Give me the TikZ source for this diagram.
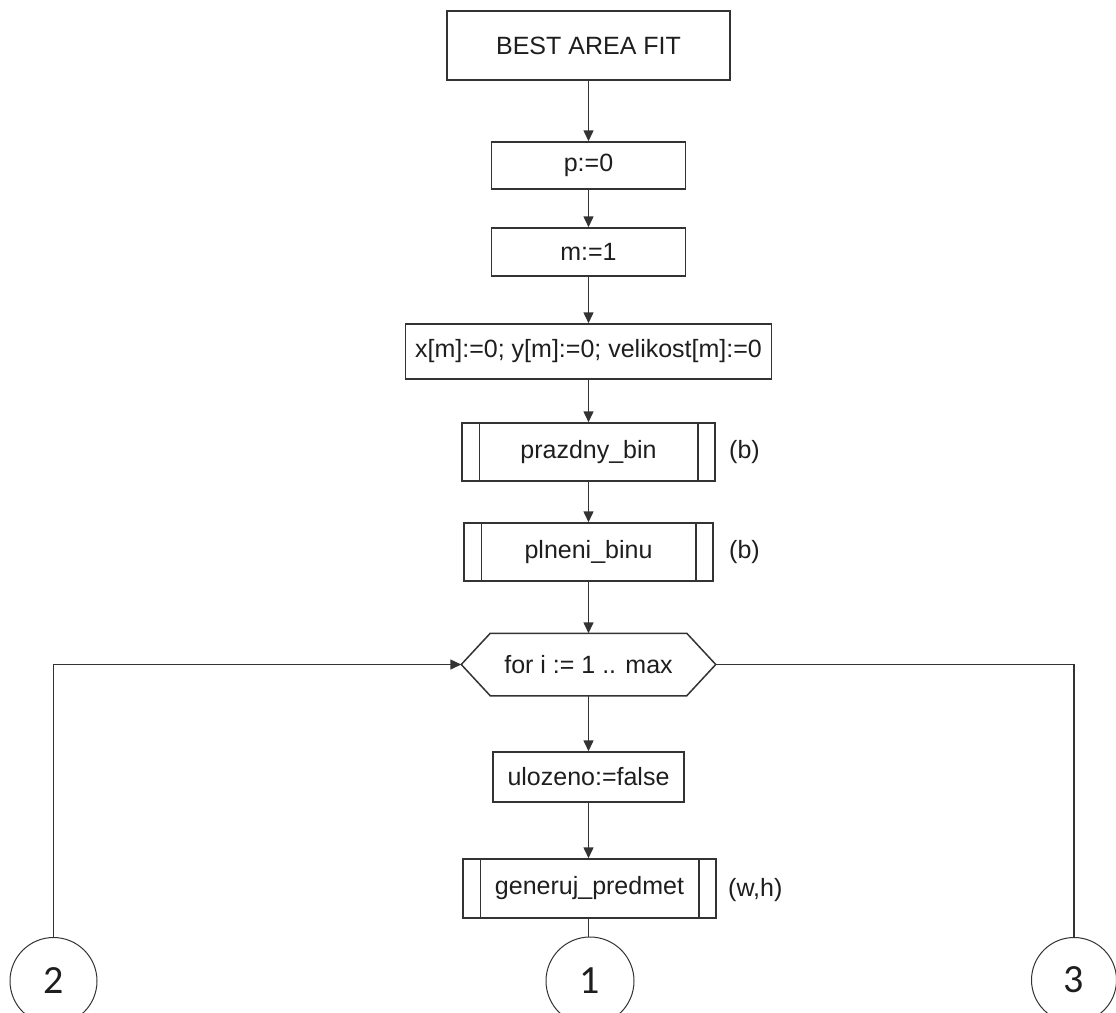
\documentclass[tikz,border=0pt]{standalone}
\usepackage{fontspec}
\setmainfont{Liberation Sans}
\newfontfamily\numfont{Carlito}
\usetikzlibrary{arrows.meta}
\definecolor{ink}{HTML}{333333}
\definecolor{txt}{HTML}{1E1E1E}
\tikzset{
  line/.style={draw=ink, line width=1.5pt},
  arr/.style={line, -{Triangle[length=11pt,width=10pt]}},
  procbox/.style={rectangle, draw=ink, line width=1.5pt, fill=white, text=txt,
    font=\fontsize{25}{29}\selectfont, inner sep=0pt},
  sidelabel/.style={text=txt, font=\fontsize{25}{29}\selectfont, anchor=west, inner sep=0pt},
  connector/.style={circle, draw=ink, line width=1pt, text=txt,
    font=\numfont\fontsize{40}{44}\selectfont, inner sep=0pt},
}
\begin{document}
\begin{tikzpicture}[x=1pt, y=-1pt]
  \clip (0,0) rectangle (1116,1012);
  \fill[white] (0,0) rectangle (1116,1012);

  % main column
  \node[procbox, minimum width=283pt, minimum height=69pt] (start) at (588.5,45.5) {BEST AREA FIT};
  \node[procbox, minimum width=194pt, minimum height=47pt] (p0) at (588.5,165.5) {p:=0};
  \node[procbox, minimum width=194pt, minimum height=48pt] (m1) at (588.5,252) {m:=1};
  \node[procbox, minimum width=366pt, minimum height=55pt] (init) at (588.5,351.5) {x[m]:=0; y[m]:=0; velikost[m]:=0};
  \node[procbox, minimum width=253pt, minimum height=58pt] (empty) at (588.5,452) {prazdny\_bin};
  \node[procbox, minimum width=249pt, minimum height=58pt] (fill) at (588.5,552) {plneni\_binu};
  \node[procbox, draw=none, fill=none, minimum width=253pt, minimum height=61pt] (loop) at (588.5,664.5) {for i := 1 .. max};
  \node[procbox, minimum width=191pt, minimum height=50pt] (flag) at (588.5,777) {ulozeno:=false};
  \node[procbox, minimum width=253pt, minimum height=59pt] (gen) at (589.5,888.5) {generuj\_predmet};

  % loop hexagon outline
  \draw[line] (loop.west) -- ([xshift=29pt]loop.north west) -- ([xshift=-29pt]loop.north east)
    -- (loop.east) -- ([xshift=-29pt]loop.south east) -- ([xshift=29pt]loop.south west) -- cycle;

  % inner bars of the subroutine boxes
  \foreach \b in {empty,fill,gen}{
    \draw[line] ([xshift=18pt]\b.north west) -- ([xshift=18pt]\b.south west);
    \draw[line] ([xshift=-18pt]\b.north east) -- ([xshift=-18pt]\b.south east);
  }

  % parameters
  \node[sidelabel] (pb1) at (729,452) {(b)};
  \node[sidelabel] (pb2) at (729,552) {(b)};
  \node[sidelabel] (pwh) at (728,890) {(w,h)};

  % off-page connectors
  \node[connector, minimum size=88pt] (c1) at (590,981) {1};
  \node[connector, minimum size=87pt] (c2) at (53.5,981) {2};
  \node[connector, minimum size=85pt] (c3) at (1074,980) {3};

  % flow
  \draw[arr] (start) -- (p0);
  \draw[arr] (p0) -- (m1);
  \draw[arr] (m1) -- (init);
  \draw[arr] (init) -- (empty);
  \draw[arr] (empty) -- (fill);
  \draw[arr] (fill.south) -- (loop.north);
  \draw[arr] (loop.south) -- (flag.north);
  \draw[arr] (flag.south) -- (flag.south |- gen.north);
  \draw[line] (flag.south |- gen.south) -- (flag.south |- c1.north);
  \draw[arr] (c2.north) |- (loop.west);
  \draw[line] (loop.east) -| (c3.north);
\end{tikzpicture}
\end{document}
